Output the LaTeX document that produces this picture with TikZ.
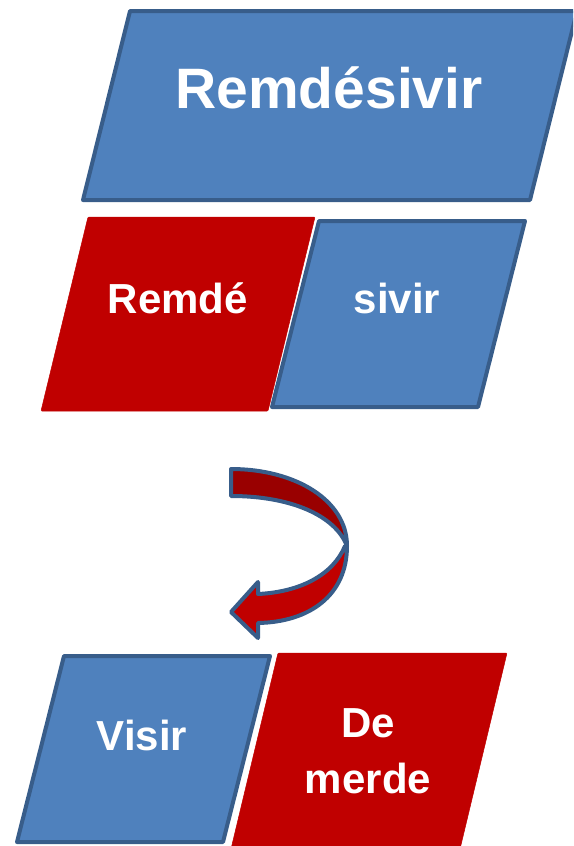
\documentclass[tikz,border=0pt]{standalone}
\usepackage{fontspec}
\setmainfont{Liberation Sans}
\usetikzlibrary{calc}

\definecolor{boxblue}{HTML}{4F81BD}
\definecolor{edgeblue}{HTML}{385D8A}
\definecolor{boxred}{HTML}{C00000}
\definecolor{backred}{HTML}{990000}

\tikzset{
  blueshape/.style={fill=boxblue, draw=edgeblue, line width=4pt, line join=round},
  redshape/.style={fill=boxred, draw=boxred, line width=0.5pt, rounded corners=1pt},
  arrowpart/.style={draw=edgeblue, line width=4pt, line join=round},
  boxtext/.style={text=white, inner sep=0pt, font=\bfseries\fontsize{42}{56}\selectfont}
}

\begin{document}
\begin{tikzpicture}[x=1pt, y=-1pt]
\def\slant{47}
\def\Wd{573}
\def\Ht{846}

\useasboundingbox (0,0) rectangle (\Wd,\Ht);
\clip (0,0) rectangle (\Wd,\Ht);

% whole name
\coordinate (t1) at (130,11);
\coordinate (t2) at (577,11);
\draw[blueshape] (t1) -- (t2) -- ($(t2)+(-\slant,189)$) -- ($(t1)+(-\slant,189)$) -- cycle;
\node[boxtext, font=\bfseries\fontsize{57}{68}\selectfont, anchor=base] (title) at (329,108) {Remdésivir};

% split in two
\coordinate (a1) at (88,217);
\coordinate (a2) at (315,217);
\fill[redshape] (a1) -- (a2) -- ($(a2)+(-\slant,194)$) -- ($(a1)+(-\slant,194)$) -- cycle;
\coordinate (b1) at (319,221);
\coordinate (b2) at (525,221);
\draw[blueshape] (b1) -- (b2) -- ($(b2)+(-\slant,186)$) -- ($(b1)+(-\slant,186)$) -- cycle;
\node[boxtext, anchor=base] (remde) at (178,313) {Remdé};
\node[boxtext, anchor=base] (sivir) at (397,313) {sivir};

% curved arrow: back side, then front side with head
\filldraw[arrowpart, fill=backred] (231,469) .. controls (295,469) and (347,500) .. (347,546)
  .. controls (335,515) and (290,496) .. (231,496) -- cycle;
\filldraw[arrowpart, fill=boxred] (347,546) .. controls (347,595) and (310,622) .. (258,623)
  -- (258,638) -- (231,612) -- (258,582) -- (258,594)
  .. controls (300,592) and (333,575) .. (345,546) -- cycle;

% swapped
\coordinate (c1) at (64,656);
\coordinate (c2) at (270,656);
\draw[blueshape] (c1) -- (c2) -- ($(c2)+(-\slant,186)$) -- ($(c1)+(-\slant,186)$) -- cycle;
\coordinate (d1) at (278,653);
\coordinate (d2) at (507,653);
\fill[redshape] (d1) -- (d2) -- ($(d2)+(-\slant,196)$) -- ($(d1)+(-\slant,196)$) -- cycle;
\node[boxtext, anchor=base] (visir) at (142,750) {Visir};
\node[boxtext, align=center, anchor=base] (demerde) at (368,793) {De\\merde};
\end{tikzpicture}
\end{document}
